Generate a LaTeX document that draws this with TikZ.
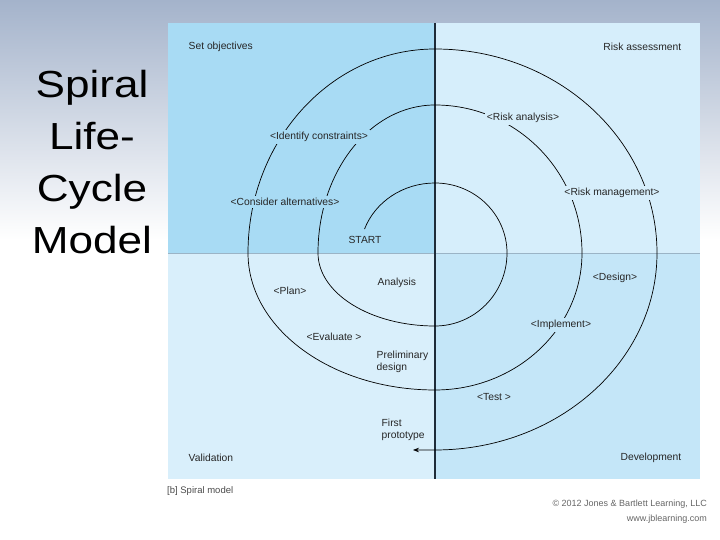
\documentclass[tikz,border=0pt]{standalone}
\usepackage{fontspec}
\setmainfont{Liberation Sans}
\usetikzlibrary{arrows.meta,positioning}
\definecolor{objblue}{HTML}{A8DBF4}
\definecolor{riskblue}{HTML}{D6EEFB}
\definecolor{valblue}{HTML}{D9EFFB}
\definecolor{devblue}{HTML}{C4E6F8}
\definecolor{slidetop}{HTML}{A4B3CB}
\definecolor{divline}{HTML}{1E2B38}
\definecolor{hline}{HTML}{9BB4C6}
\definecolor{inktext}{HTML}{262626}
\tikzset{
  lbl/.style={font=\fontsize{10.3}{12.5}\selectfont, text=inktext, inner sep=1.5pt},
  onarc/.style={lbl, inner sep=2pt},
  title/.style={font=\fontsize{37.7}{51.7}\selectfont, align=center, inner sep=0pt},
  caption/.style={font=\fontsize{9.5}{11}\selectfont, text=black!70, inner sep=0pt},
  credit/.style={font=\fontsize{9}{15}\selectfont, text=black!60, align=right, inner sep=0pt},
  spiral/.style={draw=black, line width=0.7pt},
  vdiv/.style={draw=divline, line width=1.1pt},
  hdiv/.style={draw=hline, line width=0.8pt}
}

\begin{document}
\begin{tikzpicture}[x=1pt, y=1pt]
\useasboundingbox (0,0) rectangle (720,540);
% slide background
\shade[top color=slidetop, bottom color=white] (0,300) rectangle (720,540);
\fill[white] (0,0) rectangle (720,300);

% title
\node[title, xscale=1.17] (ttl) at (92,378) {Spiral\\Life-\\Cycle\\Model};

% the four quadrants
\coordinate (C) at (435,287);
\fill[objblue] (168,287) rectangle (C |- 0,517);
\fill[riskblue] (C) rectangle (700,517);
\fill[valblue] (168,61) rectangle (C);
\fill[devblue] (C |- 0,61) rectangle (700,287);
\draw[hdiv] (168,287) -- (700,287);
\draw[vdiv] (C |- 0,517) -- (C |- 0,61);

% spiral, from START out to the first prototype
\coordinate (tip) at (413,90);
\draw[spiral, -{Stealth[length=6pt, width=4.5pt]}] (C) ++(160:75 and 70)
  arc[start angle=160, end angle=90, x radius=75, y radius=70]
  arc[start angle=90, end angle=0, x radius=72, y radius=70]
  arc[start angle=0, end angle=-90, x radius=72, y radius=73]
  arc[start angle=-90, end angle=-180, x radius=117, y radius=73]
  arc[start angle=180, end angle=90, x radius=117, y radius=148]
  arc[start angle=90, end angle=0, x radius=147, y radius=148]
  arc[start angle=0, end angle=-90, x radius=147, y radius=137]
  arc[start angle=-90, end angle=-180, x radius=187, y radius=137]
  arc[start angle=180, end angle=90, x radius=187, y radius=204]
  arc[start angle=90, end angle=0, x radius=222, y radius=204]
  arc[start angle=0, end angle=-90, x radius=222, y radius=197]
  -- (tip);

% quadrant names
\node[lbl, anchor=west] (setobj) at (187,493) {Set objectives};
\node[lbl, anchor=east] (riskass) at (683,493) {Risk assessment};
\node[lbl, anchor=west] (valid) at (187,82) {Validation};
\node[lbl, anchor=east] (devel) at (683,82) {Development};

% activities
\node[onarc, fill=objblue] (ident) at (319,403) {<Identify constraints>};
\node[onarc, fill=objblue] (consider) at (285,338) {<Consider alternatives>};
\node[lbl] (start) at (365,300) {START};
\node[onarc, fill=riskblue] (riskan) at (523,422) {<Risk analysis>};
\node[onarc, fill=riskblue] (riskman) at (612,347) {<Risk management>};
\node[lbl] (design) at (615,262) {<Design>};
\node[onarc, fill=devblue] (impl) at (561,215) {<Implement>};
\node[lbl] (test) at (494,143) {<Test >};
\node[lbl] (plan) at (290,249) {<Plan>};
\node[lbl] (eval) at (334,203) {<Evaluate >};
\node[lbl, anchor=west] (analysis) at (376,257) {Analysis};
\node[lbl, anchor=west, align=left] (prelim) at (375,178) {Preliminary\\design};
\node[lbl, anchor=west, align=left] (proto) at (380,110) {First\\prototype};

% caption and credit
\node[caption, anchor=west] (cap) at (167,49) {[b] Spiral model};
\node[credit, anchor=east] (credit) at (707,28) {© 2012 Jones \& Bartlett Learning, LLC\\www.jblearning.com};
\end{tikzpicture}
\end{document}
